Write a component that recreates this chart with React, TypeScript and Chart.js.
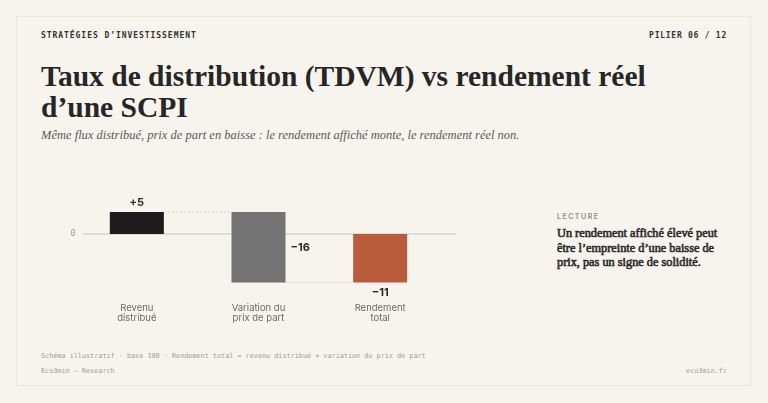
import { useEffect, useRef } from "react"
import { Chart, registerables, type ChartConfiguration, type Plugin } from "chart.js"

Chart.register(...registerables)

// données du schéma (base 100)
const categories = [["Revenu", "distribué"], ["Variation du", "prix de part"], ["Rendement", "total"]]
const steps = [5, -16, -11]
const valueLabels = ["+5", "\u221216", "\u221211"]
const barColors = ["#1c1c1c", "#747474", "#b95c3c"]

// barres flottantes : revenu depuis 0, variation depuis +5, total depuis 0
const floating: [number, number][] = [
  [0, steps[0]],
  [steps[0], steps[0] + steps[1]],
  [0, steps[2]],
]

const SANS = "Inter, 'Noto Sans', sans-serif"
const MONO = "'DejaVu Sans Mono', 'Liberation Mono', monospace"
const SERIF = "'Liberation Serif', 'DejaVu Serif', serif"

const waterfallDecor: Plugin<"bar"> = {
  id: "waterfallDecor",
  beforeDatasetsDraw(chart) {
    const { ctx, chartArea, scales } = chart
    const y0 = scales.y.getPixelForValue(0)
    ctx.save()
    // ligne du zéro
    ctx.strokeStyle = "#d9d5cd"
    ctx.lineWidth = 1.5
    ctx.beginPath()
    ctx.moveTo(chartArea.left + 7, y0)
    ctx.lineTo(chartArea.right + 15, y0)
    ctx.stroke()
    ctx.fillStyle = "#9a9a9a"
    ctx.font = `8px ${MONO}`
    ctx.textAlign = "center"
    ctx.textBaseline = "middle"
    ctx.fillText("0", chartArea.left - 3, y0)

    // pointillés de liaison
    const bars = chart.getDatasetMeta(0).data as any[]
    ctx.strokeStyle = "#d3cfc7"
    ctx.lineWidth = 1
    ctx.setLineDash([2, 2])
    for (let i = 0; i < bars.length - 1; i++) {
      const a = bars[i]
      const b = bars[i + 1]
      const end = floating[i][1]
      const yy = scales.y.getPixelForValue(end)
      ctx.beginPath()
      ctx.moveTo(a.x + a.width / 2, yy)
      ctx.lineTo(b.x - b.width / 2, yy)
      ctx.stroke()
    }
    ctx.restore()
  },
  afterDatasetsDraw(chart) {
    const { ctx, scales } = chart
    const bars = chart.getDatasetMeta(0).data as any[]
    ctx.save()
    ctx.fillStyle = "#2a2a2a"
    ctx.font = `bold 11px ${SANS}`
    ctx.textBaseline = "middle"
    bars.forEach((bar, i) => {
      const [from, to] = floating[i]
      const top = scales.y.getPixelForValue(Math.max(from, to))
      const bottom = scales.y.getPixelForValue(Math.min(from, to))
      if (i === 0) {
        ctx.textAlign = "center"
        ctx.fillText(valueLabels[i], bar.x, top - 9)
      } else if (i === 1) {
        ctx.textAlign = "left"
        ctx.fillText(valueLabels[i], bar.x + bar.width / 2 + 5, (top + bottom) / 2)
      } else {
        ctx.textAlign = "center"
        ctx.fillText(valueLabels[i], bar.x, bottom + 10)
      }
    })
    ctx.restore()
  },
}

function WaterfallChart() {
  const chartRef = useRef<HTMLCanvasElement>(null)
  const chartInstance = useRef<Chart | null>(null)

  useEffect(() => {
    if (!chartRef.current) return
    const ctx = chartRef.current.getContext("2d")
    if (!ctx) return
    if (chartInstance.current) chartInstance.current.destroy()

    const config: ChartConfiguration<"bar"> = {
      type: "bar",
      data: {
        labels: categories,
        datasets: [
          {
            data: floating as any,
            backgroundColor: barColors,
            borderWidth: 0,
            borderSkipped: false,
            barPercentage: 0.444,
            categoryPercentage: 1,
          },
        ],
      },
      options: {
        responsive: true,
        maintainAspectRatio: false,
        animation: false,
        layout: { padding: { left: 46, right: 29, top: 20, bottom: 0 } },
        scales: {
          y: {
            display: false,
            min: -14,
            max: 10,
          },
          x: {
            grid: { display: false, drawTicks: false },
            border: { display: false },
            afterFit: (s) => {
              s.height = 34.4
            },
            ticks: {
              color: "#6b6b6b",
              padding: 7,
              font: { family: SANS, size: 9.5, lineHeight: 1.08 },
            },
          },
        },
        plugins: {
          legend: { display: false },
          tooltip: { enabled: false },
        },
      },
      plugins: [waterfallDecor],
    }

    chartInstance.current = new Chart(ctx, config)
    return () => {
      if (chartInstance.current) {
        chartInstance.current.destroy()
        chartInstance.current = null
      }
    }
  }, [])

  return (
    <div style={{ position: "absolute", left: 30, top: 170, width: 440, height: 160 }}>
      <canvas ref={chartRef} />
    </div>
  )
}

const mono: React.CSSProperties = {
  position: "absolute",
  fontFamily: MONO,
  whiteSpace: "nowrap",
}

export default function App() {
  return (
    <div
      style={{
        position: "fixed",
        left: 0,
        top: 0,
        width: 768,
        height: 403,
        background: "#f6f3ec",
        overflow: "hidden",
      }}
    >
      <div
        style={{
          position: "absolute",
          left: 16,
          top: 16,
          width: 733,
          height: 368,
          border: "1.5px solid #ebe6dc",
          background: "#f7f4ee",
        }}
      />
      <div style={{ ...mono, left: 41, top: 31, fontSize: 8, letterSpacing: 0.95, color: "#333", fontWeight: 600 }}>
        STRATÉGIES D’INVESTISSEMENT
      </div>
      <div style={{ ...mono, right: 41, top: 31, fontSize: 8, letterSpacing: 0.75, color: "#333", fontWeight: 600 }}>
        PILIER 06 / 12
      </div>

      <div
        style={{
          position: "absolute",
          left: 41,
          top: 61,
          width: 660,
          fontFamily: SERIF,
          fontWeight: "bold",
          fontSize: 29.5,
          lineHeight: "31px",
          color: "#262626",
          whiteSpace: "nowrap",
        }}
      >
        Taux de distribution (TDVM) vs rendement réel
        <br />
        d’une SCPI
      </div>
      <div
        style={{
          position: "absolute",
          left: 41,
          top: 128,
          fontFamily: SERIF,
          fontStyle: "italic",
          fontSize: 12.5,
          color: "#5a5a5a",
          whiteSpace: "nowrap",
        }}
      >
        Même flux distribué, prix de part en baisse : le rendement affiché monte, le rendement réel non.
      </div>

      <WaterfallChart />

      <div
        style={{
          position: "absolute",
          left: 557,
          top: 212,
          fontFamily: SANS,
          fontSize: 7,
          fontWeight: 600,
          letterSpacing: 1.5,
          color: "#8a8a8a",
        }}
      >
        LECTURE
      </div>
      <div
        style={{
          position: "absolute",
          left: 557,
          top: 226,
          width: 166,
          fontFamily: SERIF,
          fontWeight: "normal",
          fontSize: 12.3,
          lineHeight: "14.5px",
          color: "#2b2b2b",
          WebkitTextStroke: "0.6px #2b2b2b",
        }}
      >
        Un rendement affiché élevé peut être l’empreinte d’une baisse de prix, pas un signe de solidité.
      </div>

      <div style={{ ...mono, left: 41, top: 352, fontSize: 6.8, color: "#9b9b9b" }}>
        Schéma illustratif · base 100 · Rendement total = revenu distribué + variation du prix de part
      </div>
      <div style={{ ...mono, left: 41, top: 367, fontSize: 6.8, color: "#9b9b9b" }}>Eco3min — Research</div>
      <div style={{ ...mono, right: 41, top: 367, fontSize: 6.8, color: "#9b9b9b" }}>eco3min.fr</div>
    </div>
  )
}
